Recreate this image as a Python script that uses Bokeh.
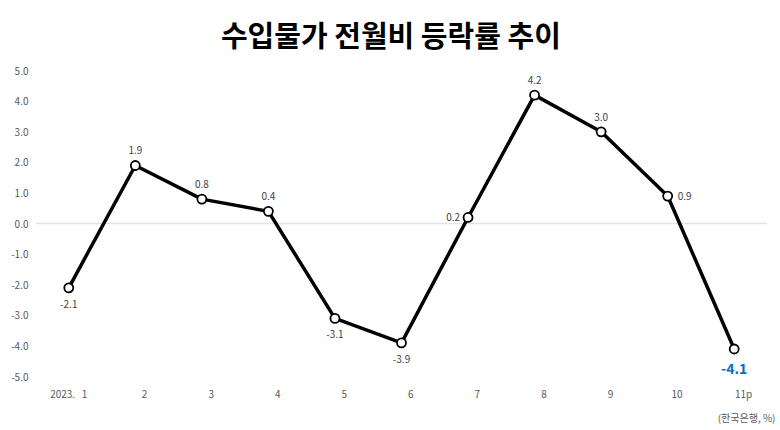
from bokeh.core.properties import value
from bokeh.embed import file_html
from bokeh.models import (ColumnDataSource, FixedTicker, Label,
                          NumeralTickFormatter, Title)
from bokeh.plotting import figure
from bokeh.resources import INLINE

# monthly change of import prices, 2023.1 ~ 11p (%)
months = [1, 2, 3, 4, 5, 6, 7, 8, 9, 10, 11]
month_labels = ["2023.\u00a0\u00a0\u00a01", "2", "3", "4", "5", "6", "7", "8",
                "9", "10", "11p"]
rates = [-2.1, 1.9, 0.8, 0.4, -3.1, -3.9, 0.2, 4.2, 3.0, 0.9, -4.1]
label_side = ["below", "above", "above", "above", "below", "below",
              "left", "above", "above", "right", "below"]

FONT = "Noto Sans CJK KR"

offsets = {"above": (0, -15, "center"), "below": (0, 16, "center"),
           "left": (-8, 0, "right"), "right": (10, 0, "left")}

last = len(months) - 1
src = ColumnDataSource(dict(
    x=months[:last], y=rates[:last],
    txt=["%.1f" % r for r in rates[:last]],
    xo=[offsets[s][0] for s in label_side[:last]],
    yo=[offsets[s][1] for s in label_side[:last]],
    al=[offsets[s][2] for s in label_side[:last]],
))

# the top of the frame is left free for the title, ticks stop at 5.0
p = figure(width=776, height=428, x_range=(0.5, 11.5), y_range=(-5, 7),
           output_backend="svg", toolbar_location=None,
           min_border_left=35, min_border_right=9,
           min_border_top=9, min_border_bottom=52)
p.outline_line_color = None

p.add_layout(Label(x=5.84, y=6.21, text="수입물가 전월비 등락률 추이",
                   text_align="center", text_baseline="middle",
                   text_font=FONT, text_font_size="29px",
                   text_font_style="bold", text_color="black"))

p.add_layout(Title(text="(한국은행, %)", align="right", offset=-8,
                   text_font=FONT, text_font_size="10px",
                   text_font_style="normal", text_color="#595959",
                   standoff=8), "below")

p.xgrid.grid_line_color = None
p.ygrid.ticker = FixedTicker(ticks=[0])
p.ygrid.grid_line_color = "#e3e3e3"
p.ygrid.grid_line_width = 1.5

p.yaxis.ticker = FixedTicker(ticks=list(range(-5, 6)))
p.yaxis.formatter = NumeralTickFormatter(format="0.0")
p.xaxis.ticker = FixedTicker(ticks=[m if m == 1 else m + 0.14 for m in months])
p.xaxis.major_label_overrides = {(m if m == 1 else m + 0.14): lab
                                 for m, lab in zip(months, month_labels)}
for ax in (p.xaxis, p.yaxis):
    ax.axis_line_color = None
    ax.major_tick_line_color = None
    ax.minor_tick_line_color = None
    ax.major_tick_out = 0
    ax.major_tick_in = 0
    ax.major_label_text_font = FONT
    ax.major_label_text_font_size = "10px"
    ax.major_label_text_color = "#595959"
p.yaxis.major_label_standoff = 7
p.xaxis.major_label_standoff = 9
p.xaxis.axis_label_standoff = 0

p.line(months, rates, line_color="black", line_width=3.5)
p.scatter(months, rates, size=9, fill_color="white", line_color="black",
          line_width=1.8)

p.text("x", "y", text="txt", source=src, x_offset="xo", y_offset="yo",
       text_align="al", text_baseline="middle", text_font=value(FONT),
       text_font_size="10px", text_color="#404040")
p.text([months[last]], [rates[last]], text=["%.1f" % rates[last]],
       y_offset=20, text_align="center", text_baseline="middle",
       text_font=value(FONT), text_font_size="14px", text_font_style="bold",
       text_color="#0070c0")

open("out.html", "w").write(file_html(p, INLINE))
